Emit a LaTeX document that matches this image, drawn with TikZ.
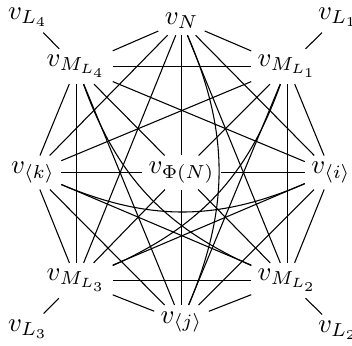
\documentclass[tikz,border=0pt]{standalone}
\begin{document}
\begin{tikzpicture}[x=0.372pt,y=-0.372pt,
  vtx/.style={inner sep=2.2pt},
  arc/.style={line width=0.4pt}]
\useasboundingbox (0,0) rectangle (352,345);
% main vertices
\node[vtx] (N)   at (181.5,21)    {$v_N$};
\node[vtx] (M1)  at (287.5,66.5)  {$v_{M_{L_1}}$};
\node[vtx] (I)   at (331,172.5)   {$v_{\langle i\rangle}$};
\node[vtx] (M2)  at (287.5,280.5) {$v_{M_{L_2}}$};
\node[vtx] (J)   at (181.5,322)   {$v_{\langle j\rangle}$};
\node[vtx] (M3)  at (76.5,280.5)  {$v_{M_{L_3}}$};
\node[vtx] (K)   at (33,172.5)    {$v_{\langle k\rangle}$};
\node[vtx] (M4)  at (76.5,66.5)   {$v_{M_{L_4}}$};
\node[vtx] (P)   at (181.5,172.5) {$v_{\Phi(N)}$};
% leaves
\node[vtx] (L4) at (28,17)  {$v_{L_4}$};
\node[vtx] (L1) at (338,17) {$v_{L_1}$};
\node[vtx] (L3) at (28,329) {$v_{L_3}$};
\node[vtx] (L2) at (338,330) {$v_{L_2}$};
% straight edges
\foreach \a/\b in {N/M1,M1/I,I/M2,M2/J,J/M3,M3/K,K/M4,M4/N,
                   N/I,M1/M2,I/J,M2/M3,J/K,M3/M4,K/N,M4/M1,
                   N/M2,M1/J,I/M3,M2/K,J/M4,M3/N,K/M1,M4/I,
                   P/N,P/M1,P/I,P/M2,P/J,P/M3,P/K,P/M4,
                   L1/M1,L2/M2,L3/M3,L4/M4}
  \draw[arc] (\a) -- (\b);
% bent edges between opposite vertices
\foreach \a/\b in {N/J,M1/M3,I/K,M2/M4}
  \draw[arc] (\a) to[bend left=23] (\b);
\end{tikzpicture}
\end{document}
